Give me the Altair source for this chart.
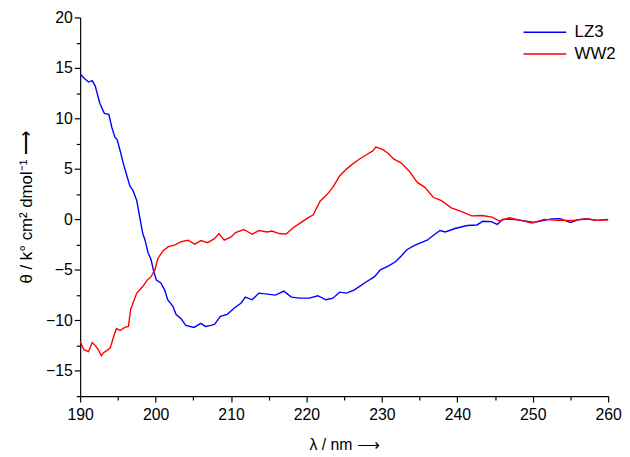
import altair as alt
import pandas as pd

lz3_nm = [190.0, 190.5, 191.1, 191.6, 192.0, 192.6, 193.2, 193.8, 194.2, 194.6, 194.9, 195.3, 195.7,
          196.2, 196.6, 197.0, 197.5, 197.9, 198.3, 198.6, 199.0, 199.4, 199.7, 200.1, 200.7, 201.2,
          201.6, 202.3, 202.7, 203.4, 204.0, 205.1, 206.0, 206.6, 207.3, 207.8, 208.6, 209.5, 210.4,
          211.3, 211.9, 212.8, 213.7, 214.8, 215.9, 217.0, 218.0, 219.1, 220.4, 221.5, 222.6, 223.5,
          224.4, 225.3, 226.3, 227.1, 227.9, 229.0, 229.8, 230.9, 231.8, 232.6, 233.3, 234.4, 235.2,
          236.0, 236.8, 237.7, 238.4, 239.7, 240.5, 241.3, 242.6, 243.4, 244.5, 245.3, 246.0, 247.1,
          248.5, 250.1, 251.5, 252.5, 253.6, 255.0, 256.0, 257.1, 258.5, 260.0]
lz3_val = [14.4, 14.0, 13.6, 13.75, 13.2, 11.5, 10.5, 10.4, 9.1, 8.15, 7.9, 6.8, 5.6,
           4.3, 3.3, 2.85, 1.87, 0.2, -1.4, -2.06, -3.3, -4.0, -5.0, -6.0, -6.3, -7.0,
           -7.96, -8.6, -9.4, -9.85, -10.5, -10.7, -10.3, -10.6, -10.5, -10.4, -9.6, -9.4, -8.8,
           -8.3, -7.7, -7.96, -7.3, -7.4, -7.5, -7.1, -7.7, -7.8, -7.8, -7.56, -7.96, -7.8,
           -7.2, -7.3, -7.0, -6.6, -6.2, -5.7, -5.0, -4.6, -4.2, -3.6, -3.0, -2.55, -2.3,
           -2.06, -1.6, -1.1, -1.24, -0.9, -0.75, -0.6, -0.55, -0.18, -0.22, -0.5, 0.0, 0.03,
           -0.1, -0.3, -0.1, 0.05, 0.07, -0.3, -0.05, 0.07, -0.1, 0.0]

ww2_nm = [190.0, 190.5, 191.1, 191.6, 192.0, 192.4, 192.8, 193.1, 193.5, 194.0, 194.4, 194.8, 195.3,
          195.9, 196.4, 196.7, 197.0, 197.5, 197.9, 198.3, 198.9, 199.4, 199.9, 200.3, 201.0, 201.7,
          202.5, 203.4, 204.3, 205.2, 206.0, 206.9, 207.8, 208.4, 209.1, 210.0, 210.6, 211.7, 212.8,
          213.7, 214.8, 215.4, 216.4, 217.3, 218.2, 219.1, 220.1, 220.9, 221.8, 222.6, 223.5, 224.4,
          225.3, 226.1, 227.0, 227.9, 228.8, 229.2, 230.1, 230.9, 231.6, 232.5, 233.6, 234.7, 235.7,
          236.8, 237.9, 239.2, 240.5, 241.9, 243.3, 244.6, 245.6, 246.9, 248.4, 249.9, 251.5, 253.2,
          255.4, 257.1, 258.5, 260.0]
ww2_val = [-12.1, -12.9, -13.1, -12.2, -12.5, -12.9, -13.5, -13.2, -13.0, -12.7, -11.7, -10.8, -11.0,
           -10.7, -10.6, -8.9, -8.3, -7.3, -6.97, -6.65, -5.99, -5.67, -5.0, -3.87, -3.1, -2.7,
           -2.55, -2.2, -2.06, -2.45, -2.1, -2.3, -1.9, -1.4, -2.06, -1.74, -1.3, -1.0, -1.47,
           -1.1, -1.24, -1.15, -1.4, -1.45, -0.85, -0.4, 0.1, 0.45, 1.8, 2.36, 3.17, 4.3,
           4.98, 5.47, 5.96, 6.38, 6.78, 7.17, 6.94, 6.5, 5.96, 5.63, 4.8, 3.66, 3.17,
           2.19, 1.85, 1.15, 0.8, 0.35, 0.39, 0.23, -0.16, 0.16, -0.1, -0.36, 0.0, -0.1,
           -0.1, 0.07, -0.1, -0.05]

series = ["LZ3", "WW2"]
colors = ["#0000FF", "#FF0000"]

x_ticks = list(range(190, 261, 5))
y_ticks = [v * 2.5 for v in range(-7, 9)]

df = pd.concat([
    pd.DataFrame({"nm": lz3_nm, "val": lz3_val, "s": "LZ3"}),
    pd.DataFrame({"nm": ww2_nm, "val": ww2_val, "s": "WW2"}),
])

FONT = "Liberation Sans"

chart = alt.Chart(df).mark_line(strokeWidth=1.4).encode(
    x=alt.X("nm:Q", scale=alt.Scale(domain=[190, 260], nice=False, zero=False),
            axis=alt.Axis(values=x_ticks, title="λ / nm  ⟶",
                          labelExpr="datum.value % 10 === 0 ? datum.label : ''",
                          tickSize={"condition": {"test": "datum.value % 10 === 0", "value": 6}, "value": 4},
                          labelFlush=False, labelOverlap=False,
                          labelPadding=5, titlePadding=14, grid=False)),
    y=alt.Y("val:Q", scale=alt.Scale(domain=[-17.5, 20], nice=False, zero=False),
            axis=alt.Axis(values=y_ticks, title="θ / k° cm²  dmol⁻¹   ⟶",
                          labelExpr="datum.value % 5 === 0 ? datum.label : ''",
                          tickSize={"condition": {"test": "datum.value % 5 === 0", "value": 6}, "value": 4},
                          labelFlush=False, labelOverlap=False,
                          labelPadding=2, titlePadding=10, titleFontSize=17, grid=False)),
    color=alt.Color("s:N", scale=alt.Scale(domain=series, range=colors),
                    legend=alt.Legend(title=None, orient="none", legendX=460, legendY=5,
                                      symbolType="M-2.4,0H2.4", symbolSize=324, symbolStrokeWidth=1.5,
                                      labelFontSize=17, labelFont=FONT, rowPadding=4, padding=0,
                                      labelOffset=20)),
).properties(
    width=534, height=383,
    autosize=alt.AutoSizeParams(type="none"),
    padding={"left": 73, "top": 7, "right": 14, "bottom": 57},
).configure_view(stroke=None).configure_axis(
    domainColor="black", tickColor="black", labelColor="black", titleColor="black",
    labelFont=FONT, titleFont=FONT, labelFontSize=16, titleFontSize=16, titleFontWeight="normal",
    domainWidth=1.2, tickWidth=1.2,
)

chart.save("out.html", embed_options={"renderer": "svg", "actions": False})
